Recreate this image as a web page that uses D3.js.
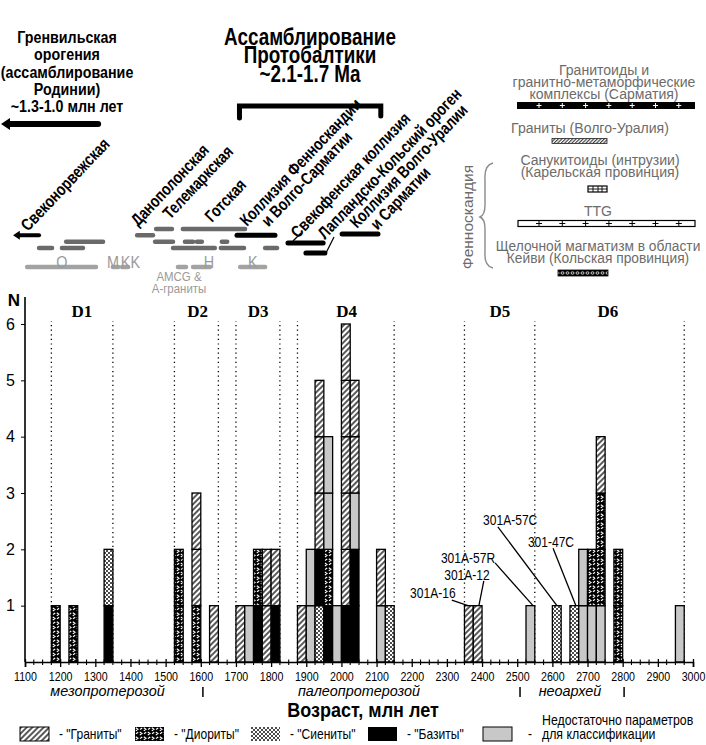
<!DOCTYPE html>
<html>
<head>
<meta charset="utf-8">
<script src="https://cdn.jsdelivr.net/npm/d3@7"></script>
<style>
  body { margin: 0; background: #fff; }
  svg text { font-family: 'Liberation Sans', Arial, sans-serif; }
</style>
</head>
<body>
<div id="mount"></div>
<script>
'use strict';

// ---- histogram data: 25 Ma bins, cells stacked bottom -> top
// G "Граниты", D "Диориты", S "Сиениты", B "Базиты", U not enough parameters
const binStarts = [1175, 1225, 1325, 1525, 1575, 1625, 1700, 1725, 1750, 1775, 1800,
                   1875, 1900, 1925, 1950, 1975, 2000, 2025, 2100, 2125,
                   2350, 2375, 2525, 2600, 2650, 2675, 2700, 2725, 2775, 2950];
const binStacks = ['D', 'D', 'BS', 'DD', 'DGG', 'G', 'G', 'U', 'BD', 'GG', 'BG',
                   'G', 'UU', 'SBGGG', 'BDUU', 'U', 'BGGGGG', 'BBUGG', 'UG', 'S',
                   'G', 'G', 'U', 'S', 'S', 'UU', 'UD', 'UDDG', 'DD', 'U'];
const binWidth = 25;

const rockCodes  = ['G', 'D', 'S', 'B', 'U'];
const rockLabels = ['- "Граниты"', '- "Диориты"', '- "Сиениты"', '- "Базиты"', '-'];

// dotted domain boundaries and domain names
const boundaryAges = [1175, 1350, 1525, 1650, 1700, 1825, 1875, 2150, 2350, 2550, 2975];
const domainNames  = ['D1', 'D2', 'D3', 'D4', 'D5', 'D6'];
const domainAges   = [1262, 1591, 1763, 2015, 2451, 2758];

// sample annotations: text position (age, N) -> bar top (age, N)
const sampleNames  = ['301A-16', '301A-12', '301A-57R', '301A-57C', '301-47C'];
const sampleText   = [[2260, 1.14], [2357, 1.46], [2360, 1.76], [2480, 2.43], [2596, 2.04]];
const sampleFrom   = [[2314, 1.10], [2405, 1.44], [2437, 1.76], [2445, 2.40], [2602, 2.02]];
const sampleTarget = [[2360, 1], [2391, 1], [2545, 1], [2613, 1], [2667, 1]];

const xTicks = d3.range(1100, 3001, 100);
const yTicks = [1, 2, 3, 4, 5, 6];

const eraNames   = ['мезопротерозой', 'палеопротерозой', 'неоархей'];
const eraSpans   = [[1070, 1600], [1600, 2500], [2500, 2800]];
const eraMarks   = [1606, 2508, 2804];

// ---- orogen timeline (upper panel), ages in Ma, level = row
const darkBars  = [[1217, 1322, 2], [1140, 1177, 3], [1205, 1265, 3], [1419, 1464, 1],
                   [1473, 1518, 0], [1470, 1521, 2], [1549, 1726, 0], [1555, 1578, 2],
                   [1589, 1603, 2], [1521, 1640, 3], [1660, 1675, 2], [1657, 1723, 3],
                   [1783, 1817, 3]];
const lightBars = [[1106, 1302], [1350, 1365], [1376, 1393], [1535, 1558],
                   [1578, 1626], [1712, 1783]];
const blackBars = [[1703, 1811, 1], [1848, 1948, 2.2], [1899, 1953, 3.8], [2002, 2104, 0.8]];
const regionLetters = ['O', 'M', 'KK', 'H', 'K'];
const regionAges    = [1205, 1350, 1400, 1623, 1748];

// ---- layout
const width = 706, height = 745;
const svg = d3.select('#mount').append('svg')
    .attr('width', width)
    .attr('height', height);

const x = d3.scaleLinear().domain([1100, 3000]).range([25, 693]);
const y = d3.scaleLinear().domain([0, 6]).range([662, 324]);
const rowY = d3.scaleLinear().domain([0, 3]).range([229, 248]);

// narrow the (regular width) font horizontally around each text's x
function squeeze(sel, s) {
  sel.each(function() {
    const t = d3.select(this);
    const ax = +t.attr('x') || 0;
    const prev = t.attr('transform') || '';
    t.attr('transform', `${prev} translate(${ax},0) scale(${s},1) translate(${-ax},0)`);
  });
}

// patterns
const defs = svg.append('defs');

const pG = defs.append('pattern').attr('id', 'pG').attr('patternUnits', 'userSpaceOnUse')
    .attr('width', 4).attr('height', 4).attr('patternTransform', 'rotate(45)');
pG.append('rect').attr('width', 4).attr('height', 4).attr('fill', '#fff');
pG.append('line').attr('x1', 1).attr('x2', 1).attr('y1', 0).attr('y2', 4)
    .attr('stroke', '#000').attr('stroke-width', 1.3);

const pD = defs.append('pattern').attr('id', 'pD').attr('patternUnits', 'userSpaceOnUse')
    .attr('width', 8).attr('height', 9);
pD.append('rect').attr('width', 8).attr('height', 9).attr('fill', '#000');
pD.append('path')
    .attr('d', 'M0.8,0.8 L3,2.3 L0.8,3.8 M7.2,1 L5,2.5 M4.8,5 L7,6.5 L4.8,8 M3.2,5.3 L1,6.8')
    .attr('fill', 'none').attr('stroke', '#fff').attr('stroke-width', 1.1);

const pS = defs.append('pattern').attr('id', 'pS').attr('patternUnits', 'userSpaceOnUse')
    .attr('width', 4).attr('height', 4);
pS.append('rect').attr('width', 4).attr('height', 4).attr('fill', '#fff');
pS.append('circle').attr('cx', 1).attr('cy', 1).attr('r', 0.95).attr('fill', '#000');
pS.append('circle').attr('cx', 3).attr('cy', 3).attr('r', 0.95).attr('fill', '#000');

const pV = defs.append('pattern').attr('id', 'pV').attr('patternUnits', 'userSpaceOnUse')
    .attr('width', 2.5).attr('height', 2.5).attr('patternTransform', 'rotate(45)');
pV.append('rect').attr('width', 2.5).attr('height', 2.5).attr('fill', '#fff');
pV.append('line').attr('x1', 0.6).attr('x2', 0.6).attr('y1', 0).attr('y2', 2.5)
    .attr('stroke', '#222').attr('stroke-width', 1);

const pK = defs.append('pattern').attr('id', 'pK').attr('patternUnits', 'userSpaceOnUse')
    .attr('width', 5).attr('height', 6);
pK.append('rect').attr('width', 5).attr('height', 6).attr('fill', '#000');
pK.append('ellipse').attr('cx', 2.5).attr('cy', 3).attr('rx', 1.5).attr('ry', 1.2)
    .attr('fill', 'none').attr('stroke', '#fff').attr('stroke-width', 0.8);

const fills = { G: 'url(#pG)', D: 'url(#pD)', S: 'url(#pS)', B: '#000', U: '#c8c8c8' };

// ---- histogram
const plot = svg.append('g');

plot.selectAll('line.bound')
    .data(boundaryAges)
  .enter().append('line')
    .attr('class', 'bound')
    .attr('x1', d => x(d)).attr('x2', d => x(d))
    .attr('y1', y(0)).attr('y2', 321)
    .attr('stroke', '#000')
    .attr('stroke-width', 1.3)
    .attr('stroke-dasharray', '1.2,3.4');

const cells = [];
binStarts.forEach((s, i) => {
  binStacks[i].split('').forEach((c, j) => cells.push({ start: s, type: c, n: j }));
});

plot.selectAll('rect.cell')
    .data(cells)
  .enter().append('rect')
    .attr('class', 'cell')
    .attr('x', d => x(d.start))
    .attr('width', d => x(d.start + binWidth) - x(d.start))
    .attr('y', d => y(d.n + 1))
    .attr('height', d => y(d.n) - y(d.n + 1))
    .attr('fill', d => fills[d.type])
    .attr('stroke', '#000')
    .attr('stroke-width', 1.3);

// x axis
const xAxis = plot.append('g')
    .attr('transform', `translate(0,${y(0)})`)
    .call(d3.axisBottom(x).tickValues(xTicks).tickSize(5).tickPadding(5).tickFormat(d3.format('d')));
xAxis.select('.domain').attr('stroke-width', 1.6);
xAxis.selectAll('.tick line').attr('stroke-width', 1.3).attr('y1', -3);
xAxis.selectAll('.tick text').attr('font-size', 13).attr('fill', '#000').call(squeeze, 0.82);
xAxis.selectAll('line.minor')
    .data(d3.range(1125, 3000, 25).filter(d => d % 100 !== 0))
  .enter().append('line')
    .attr('class', 'minor')
    .attr('x1', d => x(d)).attr('x2', d => x(d))
    .attr('y1', -2.5).attr('y2', 3)
    .attr('stroke', '#000').attr('stroke-width', 1.1);

// y axis
const yAxis = plot.append('g')
    .attr('transform', `translate(${x(1100)},0)`)
    .call(d3.axisLeft(y).tickValues(yTicks).tickSize(4).tickPadding(6).tickFormat(d3.format('d')));
yAxis.select('.domain').remove();
yAxis.append('line').attr('y1', y(0)).attr('y2', 297).attr('stroke', '#000').attr('stroke-width', 1.6);
yAxis.selectAll('text').attr('font-size', 16).attr('fill', '#000');

plot.append('text')
    .attr('x', 14).attr('y', 306)
    .attr('text-anchor', 'middle')
    .attr('font-size', 17).attr('font-weight', 'bold')
    .text('N');

// domain names
plot.selectAll('text.dom')
    .data(domainNames)
  .enter().append('text')
    .attr('class', 'dom')
    .attr('x', (d, i) => x(domainAges[i]))
    .attr('y', 317)
    .attr('text-anchor', 'middle')
    .attr('font-size', 17).attr('font-weight', 'bold')
    .style('font-family', "'Liberation Serif', 'Times New Roman', serif")
    .text(d => d);

// sample annotations
plot.selectAll('line.lead')
    .data(sampleNames)
  .enter().append('line')
    .attr('class', 'lead')
    .attr('x1', (d, i) => x(sampleFrom[i][0])).attr('y1', (d, i) => y(sampleFrom[i][1]))
    .attr('x2', (d, i) => x(sampleTarget[i][0])).attr('y2', (d, i) => y(sampleTarget[i][1]))
    .attr('stroke', '#000').attr('stroke-width', 1.3);

plot.selectAll('text.sample')
    .data(sampleNames)
  .enter().append('text')
    .attr('class', 'sample')
    .attr('x', (d, i) => x(sampleText[i][0]))
    .attr('y', (d, i) => y(sampleText[i][1]))
    .attr('text-anchor', 'middle')
    .attr('font-size', 14)
    .text(d => d)
    .call(squeeze, 0.86);

// eras
plot.selectAll('text.era')
    .data(eraNames)
  .enter().append('text')
    .attr('class', 'era')
    .attr('x', (d, i) => x((eraSpans[i][0] + eraSpans[i][1]) / 2))
    .attr('y', 696)
    .attr('text-anchor', 'middle')
    .attr('font-size', 15).attr('font-style', 'italic')
    .text(d => d)
    .call(squeeze, 0.96);

plot.selectAll('line.era')
    .data(eraMarks)
  .enter().append('line')
    .attr('class', 'era')
    .attr('x1', d => x(d)).attr('x2', d => x(d))
    .attr('y1', 687).attr('y2', 697)
    .attr('stroke', '#000').attr('stroke-width', 1.5);

plot.append('text')
    .attr('x', 363).attr('y', 717)
    .attr('text-anchor', 'middle')
    .attr('font-size', 20).attr('font-weight', 'bold')
    .text('Возраст, млн лет')
    .call(squeeze, 0.9);

// legend
const legendX = [20, 135, 251, 368, 483];
const legend = svg.append('g').selectAll('g')
    .data(rockCodes)
  .enter().append('g')
    .attr('transform', (d, i) => `translate(${legendX[i]},727)`);
legend.append('rect')
    .attr('width', 29).attr('height', 14)
    .attr('fill', d => fills[d])
    .attr('stroke', (d, i) => i === 0 || i === 4 ? '#000' : 'none')
    .attr('stroke-width', 1);
legend.append('text')
    .attr('x', (d, i) => i === 4 ? 45 : 39)
    .attr('y', 12)
    .attr('font-size', 14)
    .text((d, i) => rockLabels[i])
    .call(squeeze, 0.86);
svg.append('text')
    .attr('x', 542).attr('y', 725)
    .attr('font-size', 14)
    .call(t => t.selectAll('tspan')
        .data(['Недостаточно параметров', 'для классификации'])
      .enter().append('tspan')
        .attr('x', 542)
        .attr('dy', (d, i) => i ? 14 : 0)
        .text(d => d))
    .call(squeeze, 0.88);

// ---- upper panel
const upper = svg.append('g');

// multi-line centred text block
function block(g, lines, cx, y0, step, size, weight, fill, s) {
  g.append('text')
      .attr('x', cx)
      .attr('text-anchor', 'middle')
      .attr('font-size', size).attr('font-weight', weight)
      .attr('fill', fill)
      .call(t => t.selectAll('tspan')
          .data(lines)
        .enter().append('tspan')
          .attr('x', cx)
          .attr('y', (d, i) => y0 + i * step)
          .text(d => d))
      .call(squeeze, s);
}

// Grenville title + arrow
block(upper, ['Гренвильская', 'орогения', '(ассамблирование', 'Родинии)', '~1.3-1.0 млн лет'],
      67, 43, 17.3, 17, 'bold', '#000', 0.84);

const arrowHead = (g, xTip, yy, size) => g.append('path')
    .attr('d', `M${xTip},${yy} l${size * 1.5},${-size} v${size * 2} Z`)
    .attr('fill', '#000');

upper.append('line')
    .attr('x1', x(1308)).attr('x2', x(1050))
    .attr('y1', 124).attr('y2', 124)
    .attr('stroke', '#000').attr('stroke-width', 6).attr('stroke-linecap', 'round');
arrowHead(upper, 1, 124, 6);

upper.append('line')
    .attr('x1', x(1140)).attr('x2', x(1080))
    .attr('y1', rowY(1)).attr('y2', rowY(1))
    .attr('stroke', '#000').attr('stroke-width', 4).attr('stroke-linecap', 'round');
arrowHead(upper, x(1066), rowY(1), 4.5);

// Protobaltica title + bracket
block(upper, ['Ассамблирование', 'Протобалтики', '~2.1-1.7 Ma'],
      310, 45, 18.5, 23, 'bold', '#000', 0.82);

upper.append('path')
    .attr('d', `M${x(1710)},118 V106 H${x(2112)} V116`)
    .attr('fill', 'none').attr('stroke', '#000').attr('stroke-width', 5)
    .attr('stroke-linecap', 'round');

// timeline bars
upper.selectAll('line.dark')
    .data(darkBars)
  .enter().append('line')
    .attr('class', 'dark')
    .attr('x1', d => x(d[0])).attr('x2', d => x(d[1]))
    .attr('y1', d => rowY(d[2])).attr('y2', d => rowY(d[2]))
    .attr('stroke', '#6a6a6a').attr('stroke-width', 4.5).attr('stroke-linecap', 'round');

upper.selectAll('line.light')
    .data(lightBars)
  .enter().append('line')
    .attr('class', 'light')
    .attr('x1', d => x(d[0])).attr('x2', d => x(d[1]))
    .attr('y1', rowY(6)).attr('y2', rowY(6))
    .attr('stroke', '#a3a3a3').attr('stroke-width', 4.5).attr('stroke-linecap', 'round');

upper.selectAll('line.black')
    .data(blackBars)
  .enter().append('line')
    .attr('class', 'black')
    .attr('x1', d => x(d[0])).attr('x2', d => x(d[1]))
    .attr('y1', d => rowY(d[2])).attr('y2', d => rowY(d[2]))
    .attr('stroke', '#000').attr('stroke-width', 5).attr('stroke-linecap', 'round');

upper.selectAll('text.region')
    .data(regionLetters)
  .enter().append('text')
    .attr('class', 'region')
    .attr('x', (d, i) => x(regionAges[i]))
    .attr('y', 268)
    .attr('text-anchor', 'middle')
    .attr('font-size', 16)
    .attr('fill', '#9a9a9a')
    .text(d => d)
    .call(squeeze, 0.9);

block(upper, ['AMCG &', 'A-граниты'], 179, 281, 12, 13, 'normal', '#9a9a9a', 0.88);

// leader lines from rotated names to black bars
upper.append('line').attr('x1', 293).attr('y1', 241).attr('x2', 301).attr('y2', 233)
    .attr('stroke', '#000').attr('stroke-width', 1.2);
upper.append('line').attr('x1', 326).attr('y1', 253).attr('x2', 334).attr('y2', 237)
    .attr('stroke', '#000').attr('stroke-width', 1.2);

// rotated orogen names
const orogenNames = [
  { lines: ['Свеконорвежская'], px: 28, py: 232 },
  { lines: ['Данополонская'], px: 138, py: 227 },
  { lines: ['Телемаркская'], px: 170, py: 220 },
  { lines: ['Готская'], px: 212, py: 223 },
  { lines: ['Коллизия Фенноскандии', 'и Волго-Сарматии'], px: 247, py: 227, indent: 18 },
  { lines: ['Свекофенская коллизия'], px: 298, py: 239 },
  { lines: ['Лапландско-Кольский ороген'], px: 325, py: 240 },
  { lines: ['Коллизия Волго-Уралии', 'и Сарматии'], px: 357, py: 229, indent: 16 }
];
const names = upper.selectAll('g.oro')
    .data(orogenNames)
  .enter().append('g')
    .attr('class', 'oro')
    .attr('transform', d => `translate(${d.px},${d.py}) rotate(-46.5)`);
names.append('text')
    .attr('font-size', 17).attr('font-weight', 'bold')
    .call(t => t.selectAll('tspan')
        .data(d => d.lines.map((l, i) => ({ l, i, indent: d.indent || 0 })))
      .enter().append('tspan')
        .attr('x', d => d.i ? d.indent : 0)
        .attr('y', d => d.i * 16)
        .text(d => d.l))
    .call(squeeze, 0.8);

// ---- right legend
const grey = '#6c6c6c';
const rl = svg.append('g');

block(rl, ['Гранитоиды и', 'гранитно-метаморфические', 'комплексы (Сарматия)'], 604, 75, 12, 14.5, 'normal', grey, 0.97);
rl.append('rect').attr('x', 517).attr('y', 102).attr('width', 178).attr('height', 7).attr('fill', '#000');
const plusX = d3.range(7).map(i => 539 + i * 23.3);
rl.selectAll('path.pw')
    .data(plusX)
  .enter().append('path')
    .attr('class', 'pw')
    .attr('d', d => `M${d - 2.5},105.5 h5 M${d},103 v5`)
    .attr('stroke', '#fff').attr('stroke-width', 1);

block(rl, ['Граниты (Волго-Уралия)'], 590, 133, 12, 14.5, 'normal', grey, 0.97);
rl.append('rect').attr('x', 552).attr('y', 138.5).attr('width', 55).attr('height', 5)
    .attr('fill', 'url(#pV)').attr('stroke', '#222').attr('stroke-width', 0.8);

block(rl, ['Санукитоиды (интрузии)', '(Карельская провинция)'], 600, 165, 12.5, 14.5, 'normal', grey, 0.97);
rl.append('rect').attr('x', 588).attr('y', 186).attr('width', 19).attr('height', 6)
    .attr('fill', '#fff').attr('stroke', '#000').attr('stroke-width', 1.2);
rl.append('path').attr('d', 'M588,189 h19 M593,186 v6 M598,186 v6 M602,186 v6')
    .attr('stroke', '#000').attr('stroke-width', 0.9);

block(rl, ['TTG'], 598, 216, 12, 14.5, 'normal', grey, 0.97);
rl.append('rect').attr('x', 518).attr('y', 220.5).attr('width', 177).attr('height', 6)
    .attr('fill', '#fff').attr('stroke', '#000').attr('stroke-width', 1.2);
rl.selectAll('path.pb')
    .data(plusX)
  .enter().append('path')
    .attr('class', 'pb')
    .attr('d', d => `M${d - 3},223.5 h6 M${d},220.5 v6`)
    .attr('stroke', '#000').attr('stroke-width', 1);

block(rl, ['Щелочной магматизм в области', 'Кейви (Кольская провинция)'], 598, 251, 12.5, 14.5, 'normal', grey, 0.95);
rl.append('rect').attr('x', 558).attr('y', 270).attr('width', 50).attr('height', 6)
    .attr('fill', 'url(#pK)').attr('stroke', '#000').attr('stroke-width', 0.8);

rl.append('text')
    .attr('transform', 'translate(473,217) rotate(-90)')
    .attr('text-anchor', 'middle')
    .attr('font-size', 15.5)
    .attr('fill', grey)
    .text('Фенноскандия');
rl.append('path')
    .attr('d', 'M493,163 Q484,165 485,180 L485,205 Q485,215 480,217 Q485,219 485,229 L485,252 Q484,266 493,268')
    .attr('fill', 'none').attr('stroke', '#8a8a8a').attr('stroke-width', 1.4);
</script>
</body>
</html>
